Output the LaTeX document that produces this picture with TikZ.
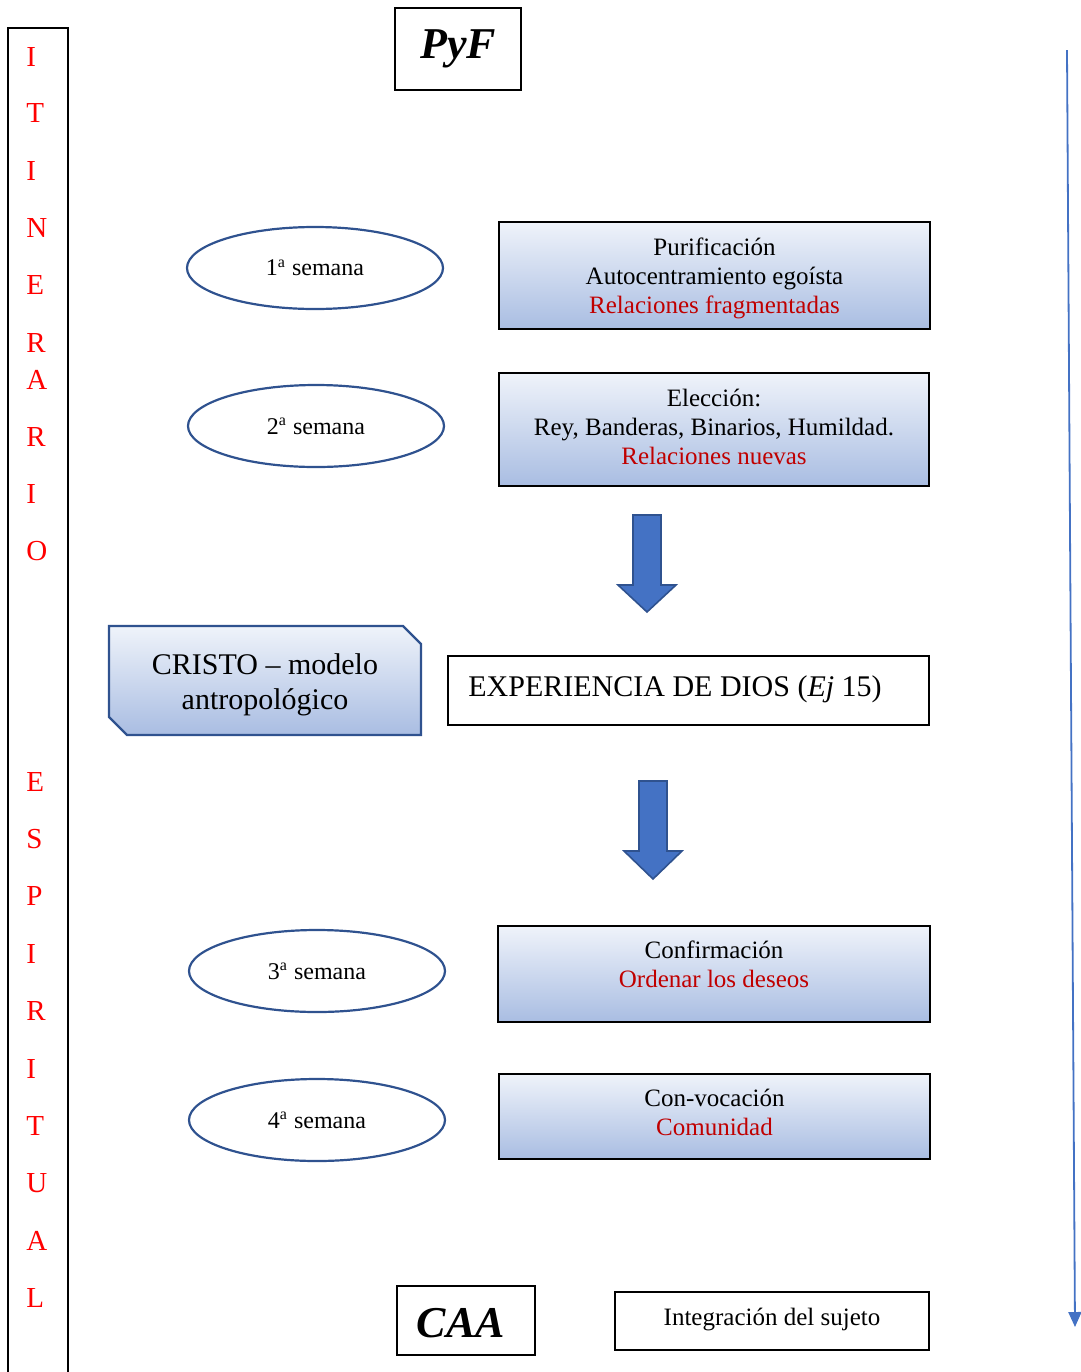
\documentclass[tikz,border=0pt]{standalone}
\usepackage{fontspec}
\setmainfont{Liberation Serif}
\usetikzlibrary{shapes.geometric,arrows.meta}
\definecolor{contorno}{HTML}{2F528F}
\definecolor{azul}{HTML}{4472C4}
\definecolor{rojo}{HTML}{C00000}
\definecolor{degradearriba}{HTML}{EFF3FA}
\definecolor{degradeabajo}{HTML}{A9BDE2}
\tikzset{
  caja/.style={draw=black, line width=0.7pt, top color=degradearriba, bottom color=degradeabajo, inner sep=0pt},
  marco/.style={draw=black, line width=0.6pt, inner sep=0pt},
  semana/.style={ellipse, draw=contorno, line width=1.1pt, minimum width=128pt, minimum height=41pt, inner sep=0pt, font=\fontsize{12}{14}\selectfont},
  texto/.style={align=center, inner sep=0pt, font=\fontsize{12.5}{14.5}\selectfont},
  letra/.style={anchor=west, text=red, inner sep=0pt, font=\fontsize{14.5}{16}\selectfont},
  flecha/.style={fill=azul, draw=contorno, line width=0.8pt, line join=miter}
}
\begin{document}
\begin{tikzpicture}[x=0.5pt,y=-0.5pt]
        \useasboundingbox (0,0) rectangle (1081,1372);
        % itinerario espiritual
        \draw[line width=0.6pt] (8,1372) -- (8,28) -- (68,28) -- (68,1372);
        \foreach \l/\y in {I/57,T/113,I/171,N/228,E/285,R/343,A/380,R/437,I/494,O/551,E/782,S/839,P/896,I/954,R/1011,I/1069,T/1126,U/1183,A/1241,L/1298}
            \node[letra] (l\y) at (26,\y) {\l};
        \node[marco, minimum width=63pt, minimum height=41pt] (pyf) at (458,49) {\fontsize{22}{24}\selectfont\bfseries\itshape PyF};
        % semanas
        \node[semana] (s1) at (315,268) {1\textsuperscript{a} semana};
        \node[semana] (s2) at (316,426) {2\textsuperscript{a} semana};
        \node[semana] (s3) at (317,971) {3\textsuperscript{a} semana};
        \node[semana] (s4) at (317,1120) {4\textsuperscript{a} semana};
        \node[caja, minimum width=215.5pt, minimum height=53.5pt] (purif) at (714.5,275.5) {};
        \node[texto] (purift) at (714.5,278) {Purificación\\Autocentramiento egoísta\\\textcolor{rojo}{Relaciones fragmentadas}};
        \node[caja, minimum width=215pt, minimum height=56.5pt] (elec) at (714,429.5) {};
        \node[texto] (elect) at (714,427) {Elección:\\Rey, Banderas, Binarios, Humildad.\\\textcolor{rojo}{Relaciones nuevas}};
        \node[caja, minimum width=216pt, minimum height=48pt] (conf) at (714,974) {};
        \node[texto] (conft) at (714,964.5) {Confirmación\\\textcolor{rojo}{Ordenar los deseos}};
        \node[caja, minimum width=215.5pt, minimum height=42.5pt] (conv) at (714.5,1116.5) {};
        \node[texto] (convt) at (714.5,1112.5) {Con-vocación\\\textcolor{rojo}{Comunidad}};
        % flechas
        \draw[flecha] (633,515) -- (661,515) -- (661,585) -- (676,585) -- (647,612) -- (618,585) -- (633,585) -- cycle;
        \draw[flecha] (639,781) -- (667,781) -- (667,851) -- (682,851) -- (653,879) -- (624,851) -- (639,851) -- cycle;
        % centro
        \draw[draw=contorno, line width=1.2pt, top color=degradearriba, bottom color=degradeabajo] (109,626) -- (403,626) -- (421,644) -- (421,735) -- (127,735) -- (109,717) -- cycle;
        \node[texto, font=\fontsize{15}{17.5}\selectfont] (cristo) at (265,684.5) {CRISTO -- modelo\\antropológico};
        \node[marco, minimum width=240.5pt, minimum height=34.5pt] (exp) at (688.5,690.5) {};
        \node[anchor=west, inner sep=0pt, font=\fontsize{15}{18}\selectfont] (expt) at (468,689) {EXPERIENCIA DE DIOS (\textit{Ej} 15)};
        % final
        \node[marco, minimum width=69pt, minimum height=34.5pt] (caa) at (466,1320.5) {};
        \node[inner sep=0pt, font=\fontsize{22}{24}\selectfont\bfseries\itshape] (caat) at (461,1323) {CAA};
        \node[marco, minimum width=157pt, minimum height=29pt] (integ) at (772,1321) {};
        \node[texto] (integt) at (772,1319) {Integración del sujeto};
        \coordinate (inicio) at (1067,50);
        \coordinate (fin) at (1075,1327);
        \draw[azul, line width=0.9pt, -{Triangle[width=6.5pt,length=7.5pt]}] (inicio) -- (fin);
    \end{tikzpicture}
\end{document}
